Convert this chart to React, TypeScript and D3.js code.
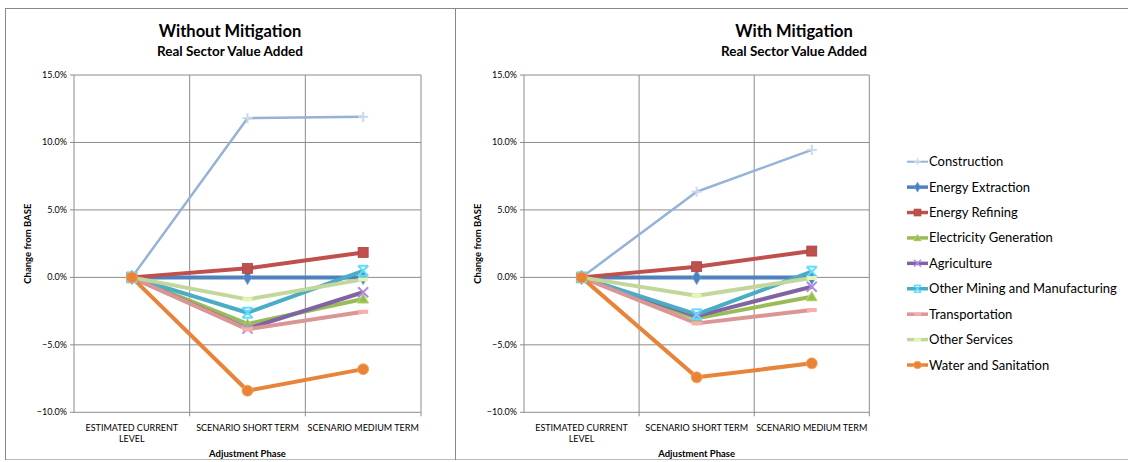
import React from "react";
import * as d3 from "d3";

const categories: string[][] = [["ESTIMATED CURRENT", "LEVEL"], ["SCENARIO SHORT TERM"], ["SCENARIO MEDIUM TERM"]];
const seriesNames = [
  "Construction",
  "Energy Extraction",
  "Energy Refining",
  "Electricity Generation",
  "Agriculture",
  "Other Mining and Manufacturing",
  "Transportation",
  "Other Services",
  "Water and Sanitation",
];
const seriesColors = ["#95B3D7", "#4F81BD", "#C0504D", "#9BBB59", "#8064A2", "#4BACC6", "#D99694", "#C3D69B", "#E8843A"];
const seriesMarkers = ["plus", "diamond", "square", "triangle", "x", "asterisk", "dash", "dash", "circle"];

// values in percent
const withoutMitigation: number[][] = [
  [0, 11.8, 11.9],
  [0, 0.0, 0.0],
  [0, 0.67, 1.85],
  [0, -3.45, -1.6],
  [0, -3.8, -1.1],
  [0, -2.62, 0.49],
  [0, -3.85, -2.55],
  [0, -1.63, -0.15],
  [0, -8.4, -6.8],
];
const withMitigation: number[][] = [
  [0, 6.35, 9.45],
  [0, 0.0, 0.0],
  [0, 0.79, 1.95],
  [0, -3.04, -1.43],
  [0, -2.87, -0.69],
  [0, -2.74, 0.42],
  [0, -3.41, -2.42],
  [0, -1.36, -0.05],
  [0, -7.41, -6.37],
];
const yTicks = [15, 10, 5, 0, -5, -10];
const titles = ["Without Mitigation", "With Mitigation"];
const subtitle = "Real Sector Value Added";
const yAxisTitle = "Change from BASE";
const xAxisTitle = "Adjustment Phase";

const FONT = "Lato, 'Open Sans', sans-serif";
const GRID = "#8C8C8C";

function Marker({ type, color, x, y }: { type: string; color: string; x: number; y: number }) {
  const light = d3.color(color)!.brighter(0.6).formatHex();
  switch (type) {
    case "plus":
      return (
        <g transform={`translate(${x},${y})`} stroke="#C9D8EC" strokeWidth={2}>
          <line x1={-5} x2={5} y1={0} y2={0} />
          <line x1={0} x2={0} y1={-5} y2={5} />
        </g>
      );
    case "diamond":
      return <path transform={`translate(${x},${y})`} d={d3.symbol(d3.symbolDiamond, 60)()!} fill={color} stroke={light} strokeWidth={0.8} />;
    case "square":
      return <rect x={x - 5} y={y - 5} width={10} height={10} fill={color} stroke={d3.color(color)!.darker(0.4).formatHex()} strokeWidth={0.8} />;
    case "triangle":
      return <path transform={`translate(${x},${y + 1})`} d={d3.symbol(d3.symbolTriangle, 55)()!} fill={color} stroke={light} strokeWidth={0.8} />;
    case "x":
      return (
        <g transform={`translate(${x},${y})`} stroke={d3.color(color)!.brighter(0.9).formatHex()} strokeWidth={2}>
          <line x1={-5} x2={5} y1={-5} y2={5} />
          <line x1={-5} x2={5} y1={5} y2={-5} />
        </g>
      );
    case "asterisk":
      return (
        <g transform={`translate(${x},${y})`} stroke={d3.color(color)!.brighter(0.7).formatHex()} strokeWidth={2}>
          <line x1={-5} x2={5} y1={-5} y2={5} />
          <line x1={-5} x2={5} y1={5} y2={-5} />
          <line x1={-5} x2={5} y1={-5} y2={-5} />
          <line x1={-5} x2={5} y1={5} y2={5} />
        </g>
      );
    case "dash":
      return <rect x={x - 5} y={y - 2} width={10} height={4} fill={d3.color(color)!.brighter(0.4).formatHex()} />;
    case "circle":
      return <circle cx={x} cy={y} r={5.5} fill={color} stroke={light} strokeWidth={0.8} />;
  }
  return null;
}

function Panel({
  left,
  right,
  titleX,
  title,
  data,
}: {
  left: number;
  right: number;
  titleX: number;
  title: string;
  data: number[][];
}) {
  const y = d3.scaleLinear().domain([-10, 15]).range([412.3, 75]);
  const x = d3.scaleBand<number>().domain([0, 1, 2]).range([left, right]).padding(0);
  const cx = (i: number) => x(i)! + x.bandwidth() / 2;
  const line = d3
    .line<number>()
    .x((_, i) => cx(i))
    .y((v) => y(v));
  const bounds = [0, 1, 2].map((i) => x(i)!).concat([right]);
  return (
    <g>
      <text x={titleX} y={37} textAnchor="middle" fontFamily={FONT} fontWeight="bold" fontSize={16.5} fill="#000">
        {title}
      </text>
      <text x={titleX} y={56} textAnchor="middle" fontFamily={FONT} fontWeight="bold" fontSize={13.5} fill="#000">
        {subtitle}
      </text>
      {yTicks.map((t) => (
        <g key={t}>
          <line x1={left - 4} x2={right} y1={y(t)} y2={y(t)} stroke={GRID} strokeWidth={1} />
          <text x={left - 7} y={y(t) + 3} textAnchor="end" fontFamily={FONT} fontSize={9} fill="#000">
            {d3.format(".1f")(t) + "%"}
          </text>
        </g>
      ))}
      {bounds.map((b, i) => (
        <line key={i} x1={b} x2={b} y1={75} y2={y(-10) + (i === 0 ? 0 : 4)} stroke={GRID} strokeWidth={1} />
      ))}
      {categories.map((lines, i) => (
        <text key={i} textAnchor="middle" fontFamily={FONT} fontSize={9} fill="#000">
          {lines.map((l, j) => (
            <tspan key={j} x={cx(i)} y={431 + j * 11}>
              {l}
            </tspan>
          ))}
        </text>
      ))}
      <text x={(left + right) / 2} y={457} textAnchor="middle" fontFamily={FONT} fontWeight="bold" fontSize={9.5} fill="#000">
        {xAxisTitle}
      </text>
      <text
        transform={`translate(${left - 43},${(y(15) + y(-10)) / 2}) rotate(-90)`}
        textAnchor="middle"
        fontFamily={FONT}
        fontWeight="bold"
        fontSize={9.5}
        fill="#000"
      >
        {yAxisTitle}
      </text>
      {data.map((vals, s) => (
        <path
          key={s}
          d={line(vals)!}
          fill="none"
          stroke={seriesColors[s]}
          strokeWidth={s === 0 ? 2.5 : 4}
          strokeLinejoin="round"
        />
      ))}
      {data.map((vals, s) => (
        <g key={s}>
          {vals.map((v, i) => (
            <Marker key={i} type={seriesMarkers[s]} color={seriesColors[s]} x={cx(i)} y={y(v)} />
          ))}
        </g>
      ))}
    </g>
  );
}

export default function App() {
  const legendY = d3.scaleLinear().domain([0, seriesNames.length - 1]).range([161.7, 365]);
  return (
    <svg width={1128} height={462} style={{ position: "absolute", left: 0, top: 0, background: "#fff" }}>
      <rect x={0} y={0} width={1128} height={462} fill="#fff" />
      <line x1={5} x2={1128} y1={8.5} y2={8.5} stroke="#888" strokeWidth={1} />
      <line x1={5} x2={1128} y1={459.5} y2={459.5} stroke="#bbb" strokeWidth={1} />
      <line x1={5.5} x2={5.5} y1={8} y2={460} stroke="#888" strokeWidth={1} />
      <line x1={455.5} x2={455.5} y1={8} y2={460} stroke="#888" strokeWidth={1} />
      <Panel left={74} right={421} titleX={230} title={titles[0]} data={withoutMitigation} />
      <Panel left={524} right={869.3} titleX={794} title={titles[1]} data={withMitigation} />
      {seriesNames.map((n, s) => (
        <g key={n} transform={`translate(0,${legendY(s)})`}>
          <line x1={907} x2={928} y1={0} y2={0} stroke={seriesColors[s]} strokeWidth={s === 0 ? 2 : 3.5} />
          <g transform="translate(917.5,0) scale(0.7)">
            <Marker type={seriesMarkers[s]} color={seriesColors[s]} x={0} y={0} />
          </g>
          <text x={929} y={4.5} fontFamily={FONT} fontSize={13} fill="#000">
            {n}
          </text>
        </g>
      ))}
    </svg>
  );
}
